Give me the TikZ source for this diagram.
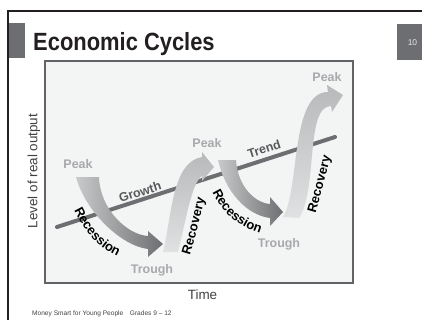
\documentclass[tikz,border=0pt]{standalone}
\usepackage{fontspec}
\setmainfont{Liberation Sans}
\newfontfamily\titlefont[FakeStretch=0.88]{Liberation Sans}
\usetikzlibrary{decorations.text}
\definecolor{ink}{HTML}{231F20}
\definecolor{tabgray}{HTML}{6D6E71}
\definecolor{chartfill}{HTML}{F3F4F4}
\definecolor{chartedge}{HTML}{626366}
\definecolor{peakgray}{HTML}{A7A9AC}
\definecolor{trendgray}{HTML}{6D6E71}
\definecolor{trendink}{HTML}{58595B}
\definecolor{axisink}{HTML}{414042}
\definecolor{fallstart}{HTML}{C8C9CA}
\definecolor{fallend}{HTML}{6E6F72}
\definecolor{risebottom}{HTML}{E0E1E2}
\definecolor{risetop}{HTML}{B8B9BB}
\newcommand{\phasefont}{\fontsize{13}{15}\selectfont\bfseries}
\tikzset{
  tabbox/.style={fill=tabgray,draw=none},
  chartbox/.style={fill=chartfill,draw=chartedge,line width=2bp},
  peaktext/.style={
    font=\fontsize{12.5}{14}\selectfont\bfseries,
    text=peakgray,
    inner sep=0pt
  },
  trendtext/.style={
    font=\fontsize{12.5}{14}\selectfont\bfseries,
    text=trendink,
    rotate=18,
    inner sep=0pt
  },
  axistext/.style={font=\fontsize{13.5}{15}\selectfont,text=axisink,inner sep=0pt},
  trendline/.style={draw=trendgray,line width=4bp,line cap=round},
  fall/.style={left color=fallstart,right color=fallend},
  rise/.style={bottom color=risebottom,top color=risetop},
  phasetext/.style={
    decorate,
    decoration={text along path,text align=center,text={|\phasefont|#1}}
  }
}

\begin{document}
\begin{tikzpicture}[x=1bp,y=-1bp]
  \useasboundingbox (0,0) rectangle (422,320);

  % slide frame, tab and page number
  \draw[ink,line width=2bp] (8,340) -- (8,11) -- (440,11);
  \fill[tabbox] (9,23) rectangle (25,58);
  \fill[tabbox] (397,24) rectangle (430,60);
  \node[anchor=base,font=\fontsize{8.5}{9}\selectfont,text=white!90!black,inner sep=0pt]
    (pagenum) at (412.5,45) {10};
  \node[anchor=base west,font=\titlefont\fontsize{25}{28}\selectfont\bfseries,
    text=ink,inner sep=0pt] (title) at (33,50) {Economic Cycles};

  % chart area
  \draw[chartbox] (45,61) rectangle (353,283);
  \node[axistext,rotate=90] (outputaxis) at (34,171) {Level of real output};
  \node[axistext,anchor=base] (timeaxis) at (202.5,299) {Time};

  % long-run trend
  \coordinate (trendstart) at (57,227);
  \coordinate (trendend) at (335,137);
  \draw[trendline] (trendstart) -- (trendend);
  \node[trendtext] (growth) at (140,192) {Growth};
  \node[trendtext] (trend) at (264,149) {Trend};

  % first cycle
  \shade[fall] (76,177) .. controls (85,211) and (121,246) .. (148,249)
    -- (148,257) -- (163,244) -- (148,231) -- (148,236)
    .. controls (128,235) and (100,210) .. (99,177) -- cycle;
  \shade[rise] (163,252) .. controls (172,215) and (172,162) .. (202,157)
    -- (202,152) -- (214,167) -- (202,181) -- (202,176)
    .. controls (192,182) and (186,220) .. (178,252) -- cycle;

  % second cycle
  \shade[fall] (218,160) .. controls (225,191) and (246,215) .. (270,218)
    -- (270,226) -- (283,212) -- (270,197) -- (270,204)
    .. controls (256,203) and (238,188) .. (236,160) -- cycle;
  \shade[rise] (283,217) .. controls (300,190) and (290,92) .. (328,92)
    -- (327,85) -- (343,95) -- (332,112) -- (331,106)
    .. controls (305,106) and (318,190) .. (299,218) -- cycle;

  % phase names
  \path[phasetext=Recession] (69,199) .. controls (82,229) and (97,251) .. (129,261);
  \path[phasetext=Recovery] (187,264) .. controls (195,240) and (201,215) .. (207,190);
  \path[phasetext=Recession] (209,184) .. controls (218,210) and (236,228) .. (269,236);
  \path[phasetext=Recovery] (313,222) .. controls (320,198) and (326,175) .. (333,148);

  \node[peaktext] (peakone) at (78,164) {Peak};
  \node[peaktext] (troughone) at (152,270) {Trough};
  \node[peaktext] (peaktwo) at (207,143) {Peak};
  \node[peaktext] (troughtwo) at (279,244) {Trough};
  \node[peaktext] (peakthree) at (327,77) {Peak};

  \node[anchor=base west,font=\fontsize{6.6}{8}\selectfont,text=axisink,inner sep=0pt]
    (footer) at (32,315) {Money Smart for Young People\quad Grades 9 -- 12};
\end{tikzpicture}
\end{document}
